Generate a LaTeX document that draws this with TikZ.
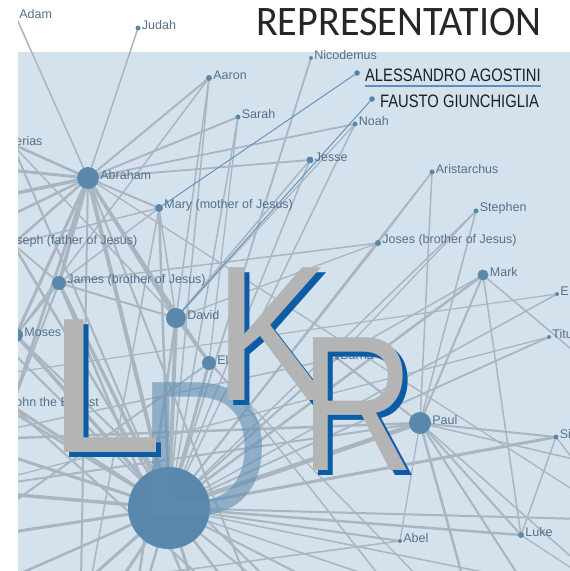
\documentclass[tikz,border=0pt]{standalone}
\usepackage{fontspec}
\setmainfont{Liberation Sans}
\newfontfamily\titlefont{Carlito}
\usetikzlibrary{positioning}

\definecolor{paper}{HTML}{D3E2ED}
\definecolor{linegray}{HTML}{A9B6BF}
\definecolor{dotblue}{HTML}{5A88AC}
\definecolor{authorblue}{HTML}{4D84B2}
\definecolor{namegray}{HTML}{55708A}
\definecolor{thinblue}{HTML}{5C8EBE}
\definecolor{logogray}{HTML}{B4B4B4}
\definecolor{logoblue}{HTML}{0C5CA6}
\definecolor{dblue}{HTML}{5F8BB0}

\pgfdeclarelayer{back}
\pgfdeclarelayer{wires}
\pgfsetlayers{back,wires,main}

\tikzset{
  person/.style={circle, fill=dotblue, draw=none, inner sep=0pt, minimum size=#1},
  person/.default=5pt,
  who/.style={font=\fontsize{12.5}{13}\selectfont, text=namegray, inner sep=0pt, yshift=3pt},
  rel/.style={draw=linegray, line width=#1, line cap=round},
  link/.style={draw=thinblue, line width=0.9pt},
  big/.style={font=\fontsize{193}{193}\selectfont, inner sep=0pt, anchor=base west},
  author/.style={font=\fontsize{18}{18}\selectfont, text=black!88, inner sep=0pt, yshift=-2pt},
}

\begin{document}
\begin{tikzpicture}[x=1pt,y=-1pt,label distance=1pt]
\useasboundingbox (0,0) rectangle (570,571);
\begin{pgfonlayer}{back}
  \fill[white] (0,0) rectangle (570,571);
  \fill[paper] (18,52) rectangle (570,571);
\end{pgfonlayer}

% people of the network
\begin{scope}
\clip (18,0) rectangle (570,571);
\node[person=82pt] (jesus) at (169,508) {};
\node[person=4pt, label={[who]right:Adam}] (adam) at (16,17) {};
\node[person, label={[who]right:Judah}] (judah) at (138,28) {};
\node[person=6pt, label={[who]right:Aaron}] (aaron) at (209,78) {};
\node[person, label={[who]right:Sarah}] (sarah) at (238,117) {};
\node[person=4pt, label={[who]right:Nicodemus}] (nicodemus) at (311,58) {};
\node[person, label={[who]right:Noah}] (noah) at (355,124) {};
\node[person=7pt, label={[who]right:Jesse}] (jesse) at (310,160) {};
\node[person, label={[who]right:Aristarchus}] (aristarchus) at (432,172) {};
\node[person=4pt, label={[who]right:erias}] (zacharias) at (12,144) {};
\node[person=22pt, label={[who]right:Abraham}] (abraham) at (88,178) {};
\node[person=8pt, label={[who]right:Mary (mother of Jesus)}] (mary) at (159,208) {};
\node[person, label={[who]right:Stephen}] (stephen) at (476,211) {};
\node[person=4pt, label={[who]right:seph (father of Jesus)}] (joseph) at (13,244) {};
\node[person=6pt, label={[who]right:Joses (brother of Jesus)}] (joses) at (378,243) {};
\node[person=11pt, label={[who]right:Mark}] (mark) at (483,275) {};
\node[person=14pt, label={[who]right:James (brother of Jesus)}] (james) at (59,283) {};
\node[person=4pt, label={[who]right:E}] (e) at (557,294) {};
\node[person=20pt, label={[who]right:David}] (david) at (176,318) {};
\node[person=14pt, label={[who]right:Moses}] (moses) at (16,335) {};
\node[person=4pt, label={[who]right:Titu}] (titus) at (549,337) {};
\node[person=4pt, label={[who]right:Barna}] (barnabas) at (337,358) {};
\node[person=14pt, label={[who]right:El}] (el) at (209,363) {};
\node[person=4pt, label={[who]right:ohn the Baptist}] (john) at (12,406) {};
\node[person=22pt, label={[who]right:Paul}] (paul) at (420,423) {};
\node[person=5pt, label={[who]right:Si}] (silas) at (556,437) {};
\node[person=6pt, label={[who]right:Luke}] (luke) at (521,535) {};
\node[person=4pt, label={[who]right:Abel}] (abel) at (400,541) {};
\end{scope}

% ends of ties that leave the frame
\coordinate (w1) at (-40,120);
\coordinate (w2) at (-40,165);
\coordinate (w3) at (-40,205);
\coordinate (w4) at (-40,240);
\coordinate (w5) at (-40,300);
\coordinate (w6) at (-40,380);
\coordinate (w7) at (-40,440);
\coordinate (w8) at (-40,490);
\coordinate (w9) at (-40,540);
\coordinate (w10) at (-40,600);
\coordinate (s1) at (20,640);
\coordinate (s2) at (80,640);
\coordinate (s3) at (130,640);
\coordinate (s4) at (210,640);
\coordinate (s5) at (270,640);
\coordinate (s6) at (330,640);
\coordinate (s7) at (430,640);
\coordinate (s8) at (480,640);
\coordinate (s9) at (560,640);
\coordinate (e1) at (620,390);
\coordinate (e2) at (620,470);
\coordinate (e3) at (620,520);
\coordinate (e4) at (620,600);

\begin{pgfonlayer}{wires}
\clip (18,0) rectangle (570,571);
\foreach \a/\b/\w in {abraham/jesus/4, david/jesus/4, james/jesus/3.5, moses/jesus/3.5,
    john/jesus/3, el/jesus/3, mary/jesus/2.5, joseph/jesus/2.5, paul/jesus/4.5,
    silas/jesus/3, luke/jesus/2.5, abel/jesus/2, nicodemus/jesus/1.8, noah/jesus/1.5,
    jesse/jesus/1.5, aristarchus/jesus/1.5, joses/jesus/2, stephen/jesus/1.5,
    mark/jesus/2.5, e/jesus/1.5, titus/jesus/1.8, barnabas/jesus/2, aaron/jesus/1.5,
    zacharias/jesus/2, sarah/jesus/1.5}
  \draw[rel=\w pt] (\a) -- (\b);
\foreach \b/\w in {w6/2.5, w7/3, w8/3.5, w9/3, w10/2.5, s1/3, s2/3, s3/2.5, s4/3,
    s5/2.5, s6/2, s7/2, e3/2, e4/1.5, s9/1.5, w5/2}
  \draw[rel=\w pt] (jesus) -- (\b);
\foreach \b/\w in {judah/1.5, aaron/2, sarah/2, noah/1.8, jesse/1.8, mary/2, david/3.5,
    james/3.5, moses/3, joseph/2.5, zacharias/2.5, adam/1.5, el/2.5, john/3,
    w1/2, w2/3, w3/3.5, w4/2.5, s2/2, s5/2, e3/1.3}
  \draw[rel=\w pt] (abraham) -- (\b);
\foreach \a/\b/\w in {aaron/moses/1.5, aaron/david/1.5, sarah/el/1.3, noah/david/1.3,
    jesse/david/1.5, mary/james/1.5, mary/joseph/1.5, mary/david/1.5, joses/james/1.5,
    joses/aristarchus/1.3, joses/david/1.3, stephen/paul/1.5, stephen/barnabas/1.3,
    mark/paul/2, mark/barnabas/1.5, mark/luke/1.5, mark/e1/1.5, silas/paul/2,
    silas/luke/1.5, silas/e3/1.3, paul/luke/2, paul/abel/1.3, paul/barnabas/2,
    paul/aristarchus/1.5, paul/s8/2.5, paul/e4/1.5, paul/e2/1.5, paul/s9/2,
    paul/w7/2.5, paul/w8/2, david/el/2, david/james/2, james/moses/2, james/john/2,
    moses/john/2, joseph/james/1.8, zacharias/david/1.5, david/s3/2.5, james/s4/2.5,
    moses/s6/2, john/s5/2, el/w9/2, mary/s2/1.5, abel/w10/1.5, luke/e4/1.3,
    titus/w8/1.3, e/w6/1.2, barnabas/w7/1.5, david/s7/1.5, el/s8/1.3}
  \draw[rel=\w pt] (\a) -- (\b);
\end{pgfonlayer}

% authors
\node[person=5.5pt, fill=authorblue] (agostini) at (357,73) {};
\node[person=5.5pt, fill=authorblue] (giunchiglia) at (372,99) {};
\node[author, right=5pt of agostini] (agostiniT) {\scalebox{.82}[1]{ALESSANDRO AGOSTINI}};
\node[author, right=5pt of giunchiglia] (giunchigliaT) {\scalebox{.82}[1]{FAUSTO GIUNCHIGLIA}};
\draw[link, line width=1.2pt] ([yshift=-4.5pt]agostiniT.south west) -- ([yshift=-4.5pt]agostiniT.south east);
\begin{pgfonlayer}{wires}
\draw[link] (agostini) -- (mary);
\draw[link] (giunchiglia) -- (david);
\end{pgfonlayer}

% logo letters
\node[big, text=dblue, text opacity=.58] (D) at (137,515) {\scalebox{.96}[1]{D}};
\node[big, text=logoblue] (Lb) at (52,457) {\scalebox{1.08}[1]{L}};
\node[big, text=logogray] (L) at (47,452) {\scalebox{1.08}[1]{L}};
\node[big, text=logoblue] (Kb) at (219,405) {\scalebox{.9}[1]{K}};
\node[big, text=logogray] (K) at (214,400) {\scalebox{.9}[1]{K}};
\node[big, text=logoblue] (Rb) at (305.5,475) {\scalebox{.82}[1]{R}};
\node[big, text=logogray] (R) at (300.5,470) {\scalebox{.82}[1]{R}};

\node[anchor=base west, inner sep=0pt, text=black!85,
  font=\titlefont\fontsize{42}{42}\selectfont] (title) at (256,35) {\scalebox{.955}[1]{REPRESENTATION}};
\end{tikzpicture}
\end{document}
